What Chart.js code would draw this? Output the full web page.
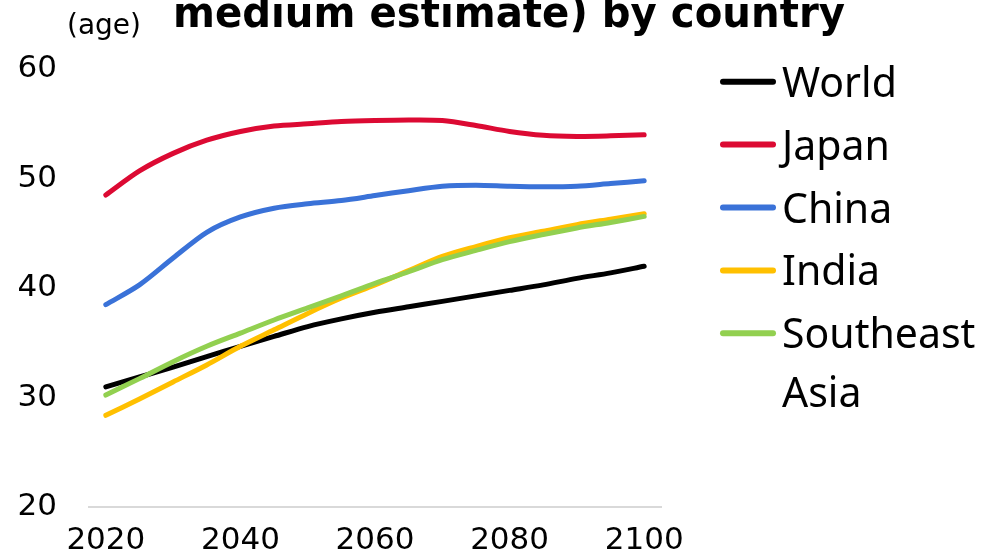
<!DOCTYPE html>
<html>
<head>
<meta charset="utf-8">
<script src="https://cdn.jsdelivr.net/npm/chart.js@4.4.1/dist/chart.umd.min.js"></script>
<style>
  html, body { margin: 0; padding: 0; background: #fff; }
  #wrap { width: 992px; height: 558px; position: relative; }
</style>
</head>
<body>
<div id="wrap"><canvas id="myChart"></canvas></div>
<script>
// years on the x axis (every 5 years)
const years = ['2020', '2025', '2030', '2035', '2040', '2045', '2050', '2055', '2060',
               '2065', '2070', '2075', '2080', '2085', '2090', '2095', '2100'];
// only these ones get a label
const xTickLabels = ['2020', '2040', '2060', '2080', '2100'];
const yTicks = [20, 30, 40, 50, 60];

const seriesNames = ['World', 'Japan', 'China', 'India', 'Southeast Asia'];
const seriesColors = ['#000000', '#DC0A33', '#3A72D8', '#FFC000', '#92D050'];

// median age
const world = [31.0, 31.9, 32.8, 33.75, 34.7, 35.6, 36.5, 37.2, 37.8, 38.3, 38.8, 39.3, 39.8, 40.3, 40.9, 41.4, 42.0];
const japan = [48.5, 50.7, 52.3, 53.5, 54.3, 54.8, 55.0, 55.2, 55.3, 55.35, 55.3, 54.85, 54.3, 53.95, 53.85, 53.9, 54.0];
const china = [38.5, 40.3, 42.75, 45.1, 46.5, 47.3, 47.7, 48.0, 48.45, 48.9, 49.3, 49.4, 49.3, 49.25, 49.3, 49.55, 49.8];
const india = [28.4, 29.9, 31.45, 33.0, 34.7, 36.2, 37.7, 39.1, 40.3, 41.6, 42.9, 43.8, 44.6, 45.2, 45.8, 46.3, 46.8];
const seAsia = [30.25, 31.75, 33.3, 34.7, 35.9, 37.1, 38.2, 39.3, 40.45, 41.5, 42.6, 43.45, 44.25, 44.9, 45.5, 46.0, 46.55];

const allSeries = [world, japan, china, india, seAsia];

// title line, "(age)" unit and the legend on the right
const extrasPlugin = {
    id: 'extras',
    afterDraw(chart) {
        const ctx = chart.ctx;
        ctx.save();
        ctx.fillStyle = '#000';

        // title (first line is above the picture)
        const title = 'medium estimate) by country';
        ctx.font = 'bold 42px "DejaVu Sans"';
        const w = ctx.measureText(title).width;
        ctx.translate(173, 27);
        ctx.scale(672 / w, 1);
        ctx.textBaseline = 'alphabetic';
        ctx.fillText(title, 0, 0);
        ctx.setTransform(1, 0, 0, 1, 0, 0);

        ctx.font = '28px "DejaVu Sans"';
        ctx.fillText('(age)', 67, 34);

        // legend
        ctx.font = '41px "Noto Sans"';
        chart.data.datasets.forEach((ds, i) => {
            const y = 81.7 + i * 62.9;
            ctx.strokeStyle = ds.borderColor;
            ctx.lineWidth = 6;
            ctx.lineCap = 'round';
            ctx.beginPath();
            ctx.moveTo(723, y);
            ctx.lineTo(773, y);
            ctx.stroke();

            // simple word wrap
            const words = ds.label.split(' ');
            let lines = [];
            let cur = '';
            words.forEach(word => {
                const test = cur ? cur + ' ' + word : word;
                if (cur && ctx.measureText(test).width > 205) {
                    lines.push(cur);
                    cur = word;
                } else {
                    cur = test;
                }
            });
            lines.push(cur);
            lines.forEach((line, j) => {
                ctx.fillText(line, 782, y + 15 + j * 58.5);
            });
        });
        ctx.restore();
    }
};

const ctx = document.getElementById('myChart');

const lineChart = new Chart(ctx, {
    type: 'line',
    data: {
        labels: years,
        datasets: seriesNames.map((name, i) => ({
            label: name,
            data: allSeries[i],
            borderColor: seriesColors[i],
            backgroundColor: seriesColors[i],
            borderWidth: 5,
            pointRadius: 0,
            tension: 0.3,
            borderCapStyle: 'round',
            borderJoinStyle: 'round',
            fill: false,
            order: seriesNames.length - i
        }))
    },
    options: {
        responsive: true,
        maintainAspectRatio: false,
        animation: false,
        devicePixelRatio: 1,
        layout: {
            padding: {top: 69, left: 19, right: 331, bottom: 0}
        },
        scales: {
            x: {
                offset: true,
                grid: {display: false, drawTicks: false},
                border: {display: true, color: '#d9d9d9', width: 2},
                ticks: {
                    autoSkip: false,
                    maxRotation: 0,
                    padding: 18,
                    color: '#000',
                    font: {family: 'DejaVu Sans', size: 31, lineHeight: 1},
                    callback: function(val) {
                        const l = this.getLabelForValue(val);
                        return xTickLabels.includes(l) ? l : '';
                    }
                },
                afterFit: (axis) => { axis.height = 50; }
            },
            y: {
                min: yTicks[0],
                max: yTicks[yTicks.length - 1],
                grid: {display: false, drawTicks: false},
                border: {display: false},
                ticks: {
                    stepSize: 10,
                    padding: 32,
                    color: '#000',
                    font: {family: 'DejaVu Sans', size: 31}
                },
                afterFit: (axis) => { axis.width = 70; }
            }
        },
        plugins: {
            legend: {display: false},
            tooltip: {enabled: false}
        }
    },
    plugins: [extrasPlugin]
});
</script>
</body>
</html>
